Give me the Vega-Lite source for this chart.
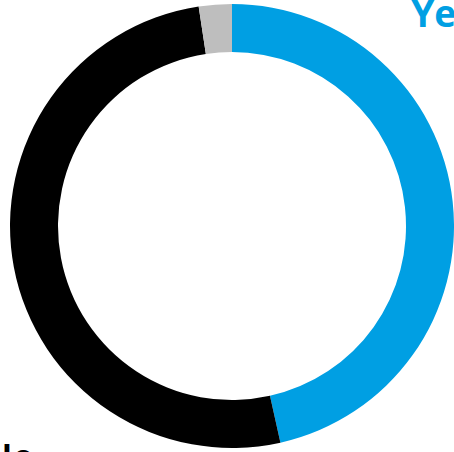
{
  "$schema": "https://vega.github.io/schema/vega-lite/v6.json",
  "autosize": "none",
  "padding": 0,
  "width": 464,
  "height": 452,
  "background": "white",
  "config": {"view": {"stroke": null}},
  "data": {"values": [
    {"answer": "Yes", "share": 46.5, "rank": 1},
    {"answer": "No", "share": 51.1, "rank": 2},
    {"answer": "Don't know", "share": 2.4, "rank": 3}
  ]},
  "layer": [
    {
      "mark": {"type": "arc", "outerRadius": 222, "innerRadius": 174},
      "encoding": {
        "theta": {"field": "share", "type": "quantitative", "stack": true},
        "order": {"field": "rank", "type": "ordinal"},
        "color": {
          "field": "answer", "type": "nominal",
          "scale": {"domain": ["Yes", "No", "Don't know"], "range": ["#009FE3", "#000000", "#BEBEBE"]},
          "legend": null
        }
      }
    },
    {
      "transform": [{"filter": "datum.answer === 'Yes'"}],
      "mark": {"type": "text", "font": "Open Sans", "fontWeight": "bold", "fontSize": 37, "align": "left", "baseline": "alphabetic", "color": "#009FE3"},
      "encoding": {
        "text": {"field": "answer"},
        "theta": {"value": 0.7327},
        "radius": {"value": 268}
      }
    },
    {
      "transform": [{"filter": "datum.answer === 'No'"}],
      "mark": {"type": "text", "font": "Open Sans", "fontWeight": "bold", "fontSize": 35, "align": "right", "baseline": "alphabetic", "color": "#000000"},
      "encoding": {
        "text": {"field": "answer"},
        "theta": {"value": 3.823},
        "radius": {"value": 314}
      }
    }
  ]
}
